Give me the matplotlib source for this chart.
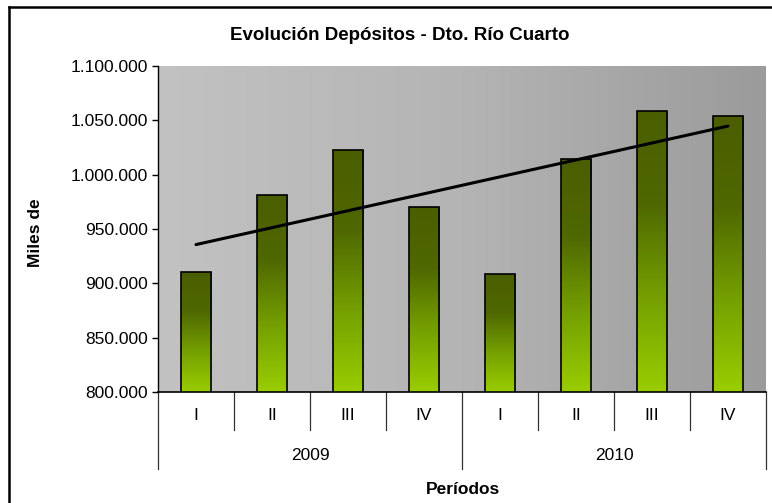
import numpy as np
import matplotlib
matplotlib.use('Agg')
import matplotlib.pyplot as plt
from matplotlib.colors import LinearSegmentedColormap
from matplotlib.lines import Line2D
import matplotlib.transforms as mtransforms

plt.rcParams['font.family'] = ['Liberation Sans', 'DejaVu Sans']

# data
quarters = ['I', 'II', 'III', 'IV', 'I', 'II', 'III', 'IV']
years = ['2009', '2010']
deposits = [910500, 981400, 1022500, 970600, 908700, 1014800, 1058700, 1054400]
y_ticks = [800000, 850000, 900000, 950000, 1000000, 1050000, 1100000]

W, H = 772, 503
fs = 12.5
fig = plt.figure(figsize=(W / 100, H / 100), dpi=100)
ax = fig.add_axes([158 / W, 1 - 392 / H, (766 - 158) / W, (392 - 66) / H])

x = np.arange(len(deposits))
ax.set_xlim(-0.5, len(deposits) - 0.5)
ax.set_ylim(y_ticks[0], y_ticks[-1])

# gray gradient background (lighter on the left)
bg = LinearSegmentedColormap.from_list('bg', ['#c2c2c2', '#b4b4b4', '#9b9b9b'])
ax.imshow(np.linspace(0, 1, 256).reshape(1, -1), cmap=bg, aspect='auto',
          extent=[0, 1, 0, 1], transform=ax.transAxes, zorder=0)
ax.set_facecolor('none')

# bars with vertical green gradient
bar_cmap = LinearSegmentedColormap.from_list(
    'bars', ['#4a5e00', '#4f6800', '#75a000', '#9acd00'])
bars = ax.bar(x, deposits, width=0.4, color='none', edgecolor='black',
              linewidth=1.2, zorder=3)
grad = np.linspace(0, 1, 256).reshape(-1, 1)
for b in bars:
    bx = b.get_x()
    im = ax.imshow(grad, cmap=bar_cmap, aspect='auto', zorder=2,
                   extent=[bx, bx + b.get_width(), y_ticks[0], b.get_height()])
    im.set_clip_path(b)

# linear trend line
k, c = np.polyfit(x, deposits, 1)
ax.plot(x, k * x + c, color='black', linewidth=2.2, zorder=4,
        solid_capstyle='round')

# y axis
ax.set_yticks(y_ticks)
ax.set_yticklabels([f'{v:,}'.replace(',', '.') for v in y_ticks], fontsize=fs)
ax.tick_params(axis='y', direction='out', length=4, width=1, pad=3)
ax.tick_params(axis='x', length=0, labelbottom=False)
for s in ['top', 'right']:
    ax.spines[s].set_visible(False)
ax.spines['left'].set_linewidth(1)
ax.spines['bottom'].set_linewidth(1.2)

# multi level category axis
tr = mtransforms.blended_transform_factory(ax.transData, ax.transAxes)
lvl1 = -38 / 326
lvl2 = -77 / 326
for i in range(len(quarters) + 1):
    edge = i - 0.5
    bottom = lvl2 if i % 4 == 0 else lvl1
    ax.plot([edge, edge], [0, bottom], color='#333333', linewidth=0.9,
            transform=tr, clip_on=False)
for xi, q in zip(x, quarters):
    ax.text(xi, -24 / 326, q, transform=tr, ha='center', va='center',
            fontsize=fs)
for j, yr in enumerate(years):
    ax.text(j * 4 + 1.5, -63 / 326, yr, transform=tr, ha='center',
            va='center', fontsize=fs)

fig.text(35 / W, 1 - 233 / H, 'Miles de', rotation=90, ha='center',
         va='center', fontsize=fs, fontweight='bold')
fig.text(463 / W, 1 - 489 / H, 'Períodos', ha='center', va='center',
         fontsize=fs, fontweight='bold')
fig.text(400 / W, 1 - 36 / H, 'Evolución Depósitos - Dto. Río Cuarto',
         ha='center', va='center', fontsize=13.5, fontweight='bold')

# chart border: only the top and left edges are inside the picture
bx0, by0 = 9 / W, 1 - 7 / H
fig.lines.append(Line2D([bx0, 1.0], [by0, by0], transform=fig.transFigure,
                        color='black', linewidth=1.8))
fig.lines.append(Line2D([bx0, bx0], [0.0, by0], transform=fig.transFigure,
                        color='black', linewidth=1.8))

fig.savefig('out.png', dpi=100)
